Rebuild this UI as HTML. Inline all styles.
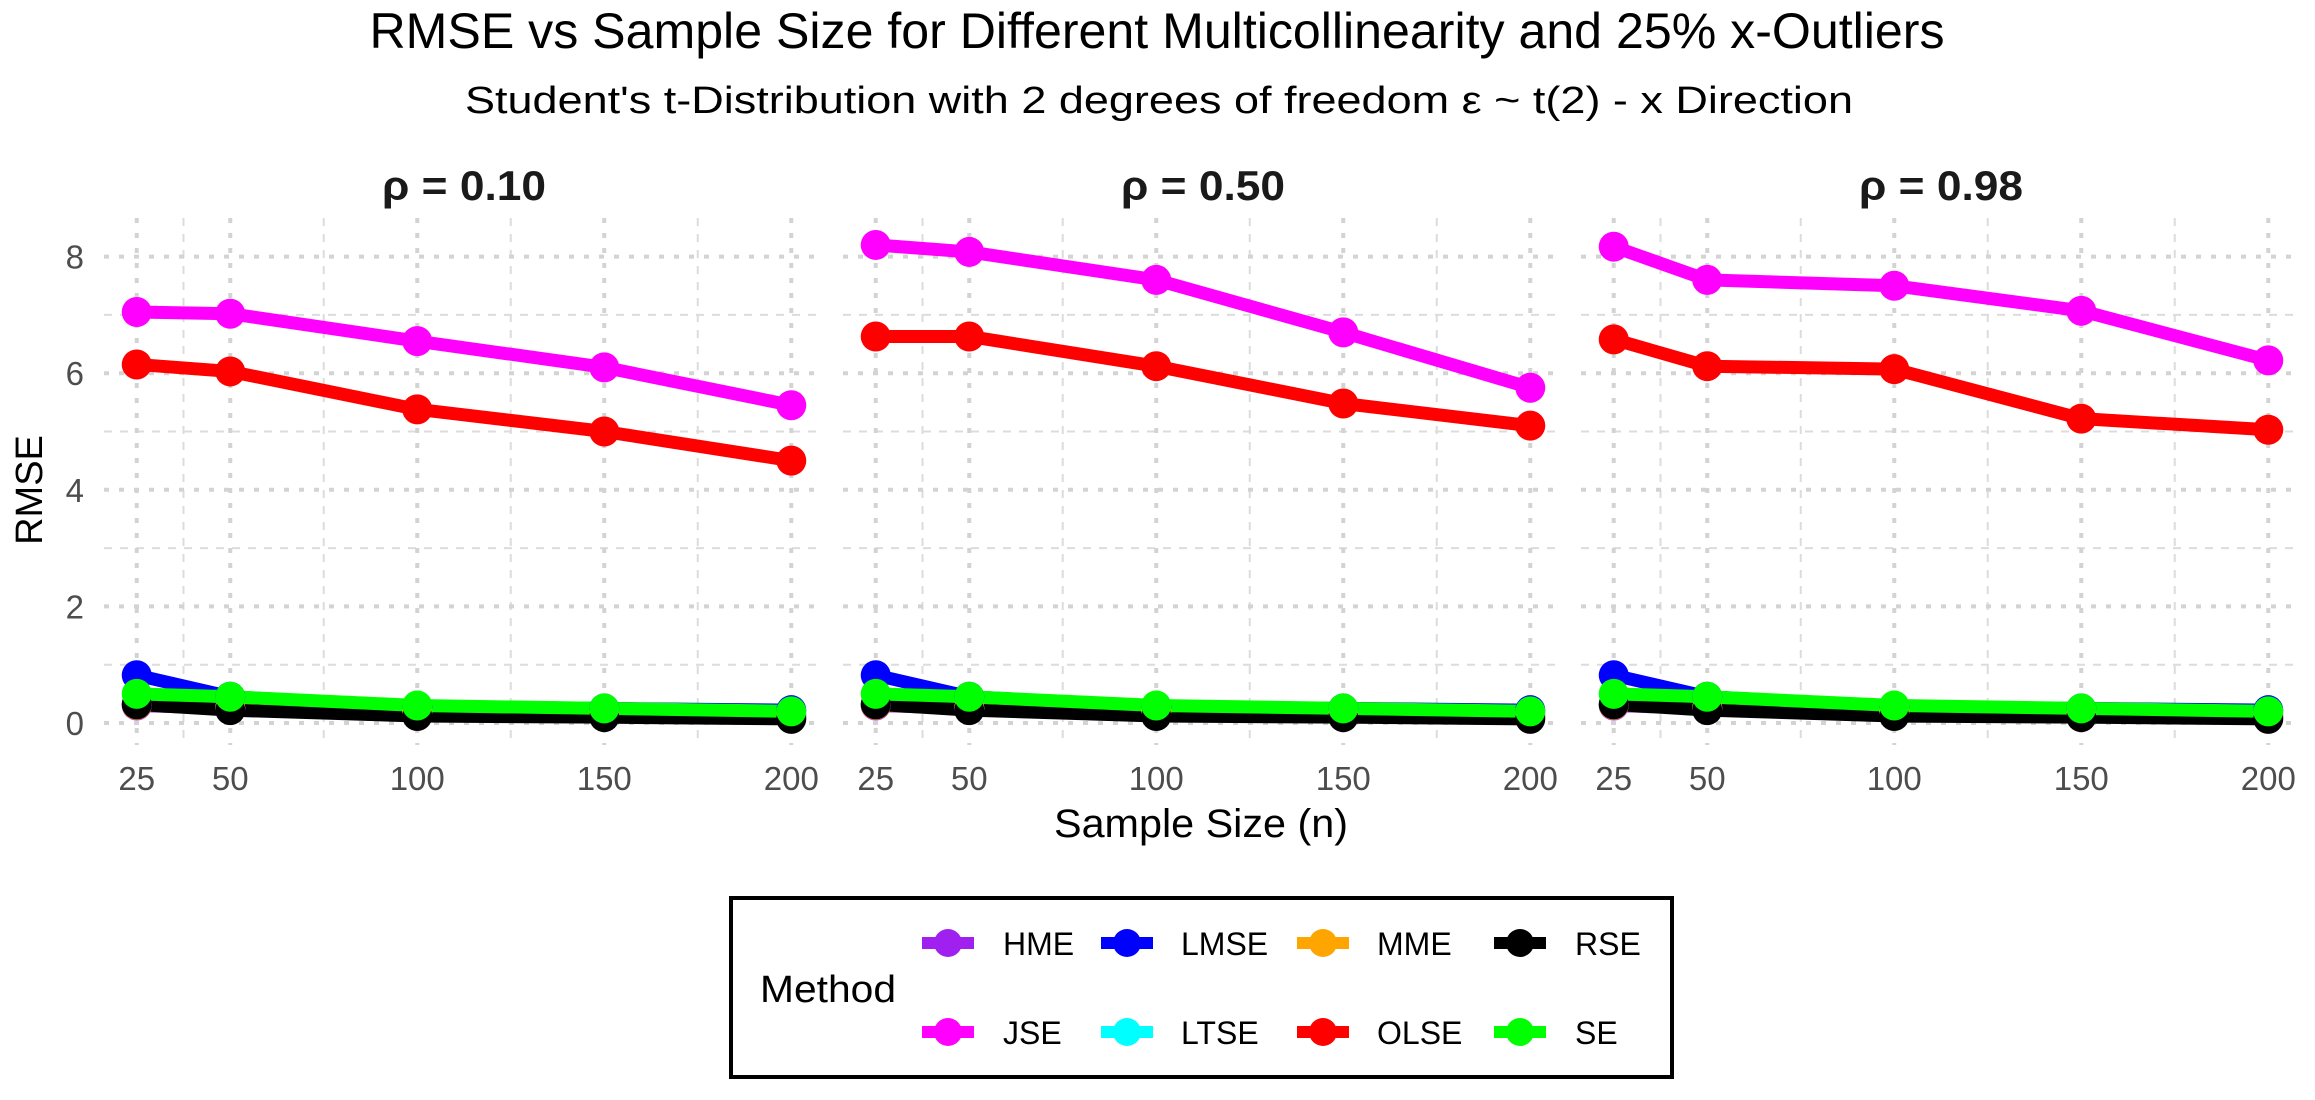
<!DOCTYPE html>
<html><head><meta charset="utf-8"><style>
html,body{margin:0;padding:0;background:#fff;}
svg{display:block;font-family:"Liberation Sans",Arial,sans-serif;}
</style></head><body>
<svg id="chart" width="2315" height="1100" viewBox="0 0 2315 1100" xmlns="http://www.w3.org/2000/svg">
<text x="1157" y="48" font-size="50" text-anchor="middle" textLength="1575" lengthAdjust="spacingAndGlyphs" fill="#000">RMSE vs Sample Size for Different Multicollinearity and 25% x-Outliers</text>
<text x="1159" y="113" font-size="38" text-anchor="middle" textLength="1388" lengthAdjust="spacingAndGlyphs" fill="#000">Student's t-Distribution with 2 degrees of freedom ε ~ t(2) - x Direction</text>
<text transform="translate(42,490) rotate(-90)" font-size="38" text-anchor="middle" fill="#000">RMSE</text>
<text x="1201" y="837" font-size="40" text-anchor="middle" textLength="294" lengthAdjust="spacingAndGlyphs" fill="#000">Sample Size (n)</text>
<g id="panels"></g>
<g>
<rect x="731" y="898" width="941" height="179" fill="none" stroke="#000" stroke-width="4"/>
<text x="760" y="1002" font-size="38" textLength="136" lengthAdjust="spacingAndGlyphs" fill="#000">Method</text>
<g id="legend-entries"></g>
</g>
</svg>
<script>
const ns="http://www.w3.org/2000/svg";
const categories=[25,50,100,150,200];
const panelTitles=["ρ = 0.10","ρ = 0.50","ρ = 0.98"];
const methods=["HME","JSE","LMSE","LTSE","MME","OLSE","RSE","SE"];
const colors=["#a020f0","#ff00ff","#0000ff","#00ffff","#ffa500","#ff0000","#000000","#00ff00"];
const HME=[[0.3,0.25,0.18,0.15,0.12],[0.3,0.25,0.18,0.15,0.12],[0.3,0.25,0.18,0.15,0.12]];
const JSE=[[7.05,7.02,6.55,6.1,5.45],[8.2,8.08,7.6,6.7,5.75],[8.17,7.6,7.5,7.07,6.22]];
const LMSE=[[0.82,0.45,0.28,0.25,0.22],[0.82,0.45,0.28,0.25,0.22],[0.82,0.45,0.28,0.25,0.22]];
const LTSE=[[0.32,0.26,0.2,0.17,0.14],[0.32,0.26,0.2,0.17,0.14],[0.32,0.26,0.2,0.17,0.14]];
const MME=[[0.31,0.25,0.19,0.16,0.13],[0.31,0.25,0.19,0.16,0.13],[0.31,0.25,0.19,0.16,0.13]];
const OLSE=[[6.15,6.03,5.38,5.0,4.5],[6.63,6.63,6.12,5.48,5.1],[6.58,6.12,6.07,5.22,5.03]];
const RSE=[[0.32,0.22,0.12,0.1,0.07],[0.32,0.22,0.12,0.1,0.07],[0.32,0.22,0.12,0.1,0.07]];
const SE=[[0.5,0.45,0.3,0.25,0.2],[0.5,0.45,0.3,0.25,0.2],[0.5,0.45,0.3,0.25,0.2]];
const series=[HME,JSE,LMSE,LTSE,MME,OLSE,RSE,SE];
const yTicks=[0,2,4,6,8];
const yMinor=[1,3,5,7];
const xMinor=[37.5,75,125,175];

const panelX=[104,843,1581], panelW=720, plotTop=218, plotBottom=745;
const yScale=v=>723-v*58.3;
function xs(p){const lo=25-8.75,hi=200+8.75;return v=>panelX[p]+(v-lo)/(hi-lo)*panelW;}
function mk(tag,attrs,parent){const e=document.createElementNS(ns,tag);for(const k in attrs)e.setAttribute(k,attrs[k]);parent.appendChild(e);return e;}
const root=document.getElementById('panels');
for(let p=0;p<3;p++){
  const x=xs(p);
  const g=mk('g',{},root);
  
  
  const x0=panelX[p],x1=panelX[p]+panelW;
  yMinor.forEach(v=>{const l=mk('line',{x1:x0,x2:x1,y1:yScale(v),y2:yScale(v),stroke:'#dcdcdc','stroke-width':2,'stroke-dasharray':'8 8'},g);
    
    });
  xMinor.forEach(v=>{const l=mk('line',{x1:x(v),x2:x(v),y1:plotTop,y2:plotBottom,stroke:'#dcdcdc','stroke-width':2,'stroke-dasharray':'8 8'},g);
    
    });
  yTicks.forEach(v=>{const l=mk('line',{x1:x0,x2:x1,y1:yScale(v),y2:yScale(v),stroke:'#d3d3d3','stroke-width':4,'stroke-dasharray':'5 10'},g);
    
    });
  categories.forEach(v=>{const l=mk('line',{x1:x(v),x2:x(v),y1:plotTop,y2:plotBottom,stroke:'#d3d3d3','stroke-width':4,'stroke-dasharray':'5 10'},g);
    
    
    const t=mk('text',{x:x(v),y:790,'font-size':33,'text-anchor':'middle',fill:'#4d4d4d'},g);t.textContent=v;
    
    });
  if(p===0){yTicks.forEach(v=>{const t=mk('text',{x:84,y:yScale(v)+12,'font-size':33,'text-anchor':'end',fill:'#4d4d4d'},g);t.textContent=v;
    
    });}
  const tt=mk('text',{x:x0+panelW/2,y:200,'font-size':42,'font-weight':'bold','text-anchor':'middle',fill:'#1a1a1a',textLength:164,lengthAdjust:'spacingAndGlyphs'},g);
  tt.textContent=panelTitles[p];
  
  
  series.forEach((s,i)=>{
    const pts=categories.map((c,j)=>x(c)+','+yScale(s[p][j])).join(' ');
    const pl=mk('polyline',{points:pts,fill:'none',stroke:colors[i],'stroke-width':13,'stroke-linejoin':'round'},g);
    
    
  });
  series.forEach((s,i)=>{
    categories.forEach((c,j)=>{
      const ci=mk('circle',{cx:x(c),cy:yScale(s[p][j]),r:15,fill:colors[i]},g);
      
      
    });
  });
}
const leg=document.getElementById('legend-entries');
const legOrder=[0,2,4,6,1,3,5,7];
const keyX=[948,1127,1323,1520], textX=[1003,1181,1377,1575], rowY=[943,1032];
legOrder.forEach((m,k)=>{
  const col=k%4,row=Math.floor(k/4);
  const g=mk('g',{},leg);
  
  
  mk('line',{x1:keyX[col]-26,x2:keyX[col]+26,y1:rowY[row],y2:rowY[row],stroke:colors[m],'stroke-width':12},g);
  mk('circle',{cx:keyX[col],cy:rowY[row],r:14,fill:colors[m]},g);
  const t=mk('text',{x:textX[col],y:rowY[row]+12,'font-size':32,fill:'#000'},g);
  t.textContent=methods[m];
});
</script>
</body></html>
